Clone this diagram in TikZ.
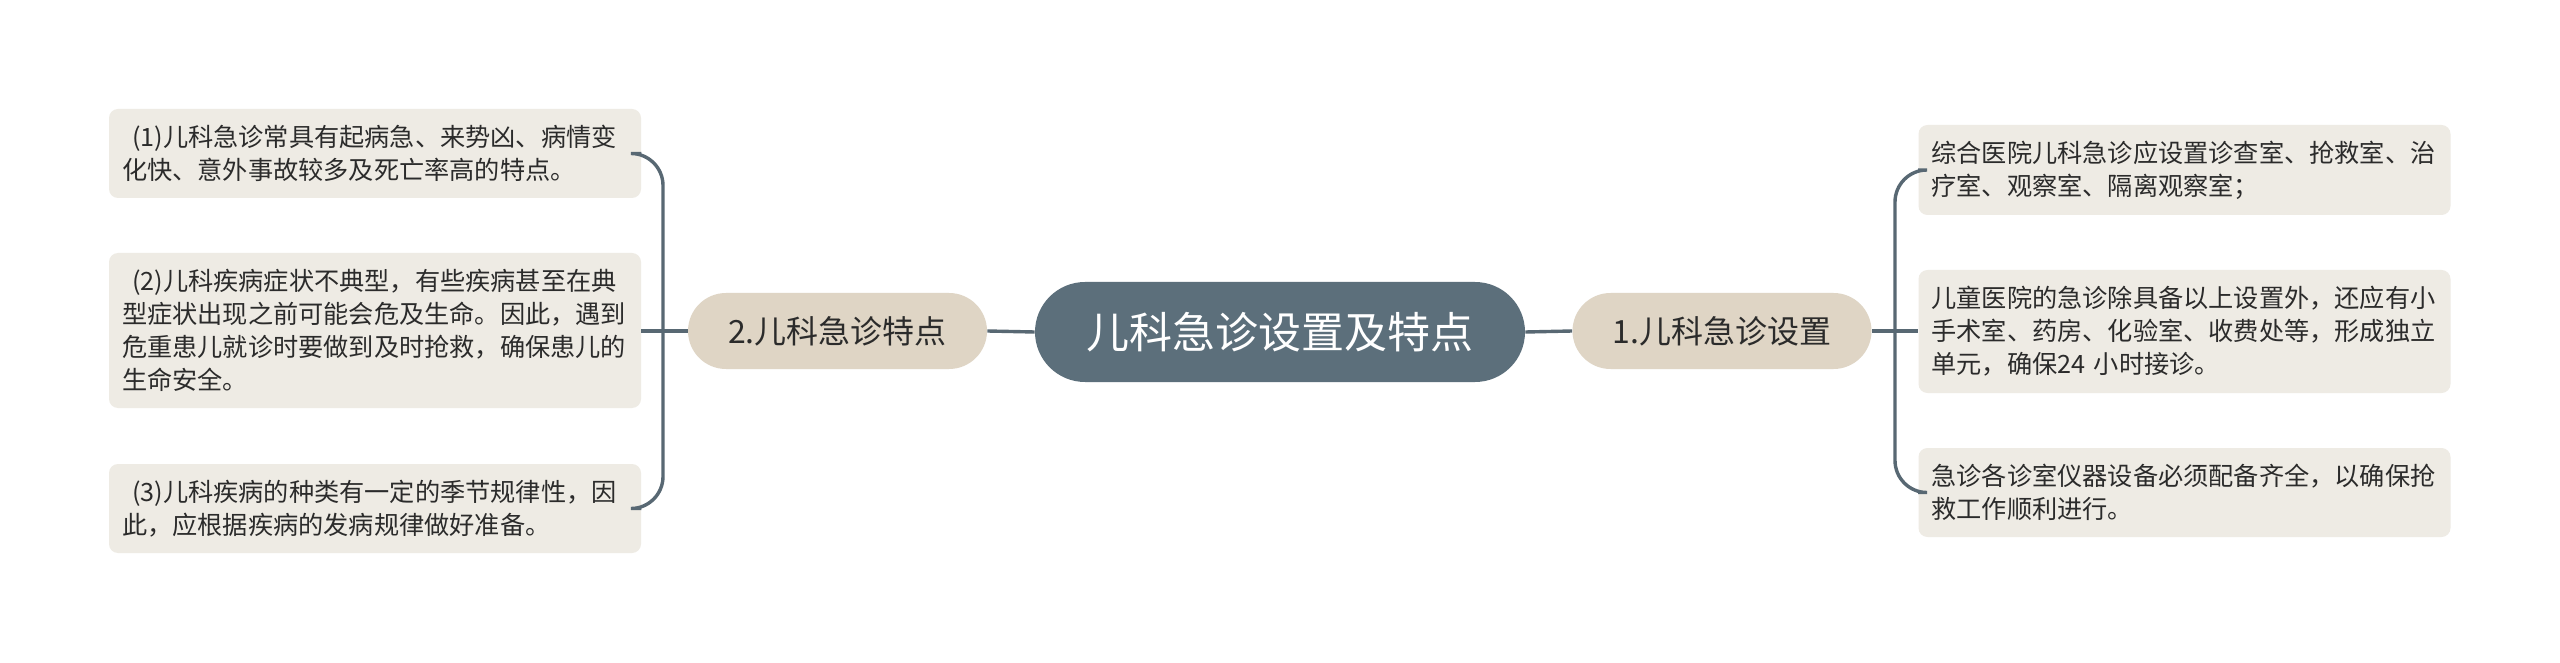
\documentclass[tikz,border=0pt]{standalone}
\usepackage{fontspec}
\setmainfont{Noto Sans CJK SC}
\definecolor{centerfill}{HTML}{5C6F7B}
\definecolor{topicfill}{HTML}{DFD5C5}
\definecolor{leaffill}{HTML}{EEEBE4}
\definecolor{linecol}{HTML}{586873}
\definecolor{textcol}{HTML}{2B2B2B}
\tikzset{
  centerbox/.style={fill=centerfill, rounded corners=25pt, minimum width=245pt, minimum height=50pt,
    inner sep=0pt, text=white, font=\fontsize{21.5pt}{26pt}\selectfont},
  topicbox/.style={fill=topicfill, rounded corners=19pt, minimum width=149.5pt, minimum height=38pt,
    inner sep=0pt, text=textcol, font=\fontsize{16pt}{20pt}\selectfont},
  leafbox/.style={fill=leaffill, rounded corners=4.5pt, text width=253pt, inner xsep=6.5pt, inner ysep=0pt,
    align=left, text=textcol, font=\fontsize{12.6pt}{16.5pt}\selectfont},
  conn/.style={draw=linecol, line width=1.7pt},
  bracket/.style={conn, rounded corners=16pt},
}
\begin{document}
\begin{tikzpicture}[x=0.5pt, y=-0.5pt]
\useasboundingbox[fill=white] (0,0) rectangle (2560,663);
\node[centerbox] (c) at (1280,332) {儿科急诊设置及特点};
\node[topicbox] (t2) at (837.5,331) {2.儿科急诊特点};
\node[topicbox] (t1) at (1722,331) {1.儿科急诊设置};

\node[leafbox, minimum height=44.5pt] (l1) at (375,153.5) {\hspace*{5pt}(1)儿科急诊常具有起病急、来势凶、病情变\\化快、意外事故较多及死亡率高的特点。};
\node[leafbox, minimum height=77.5pt] (l2) at (375,330.5) {\hspace*{5pt}(2)儿科疾病症状不典型，有些疾病甚至在典\\型症状出现之前可能会危及生命。因此，遇到\\危重患儿就诊时要做到及时抢救，确保患儿的\\生命安全。};
\node[leafbox, minimum height=44.5pt] (l3) at (375,508.5) {\hspace*{5pt}(3)儿科疾病的种类有一定的季节规律性，因\\此，应根据疾病的发病规律做好准备。};

\node[leafbox, minimum height=45pt] (r1) at (2184.5,170) {综合医院儿科急诊应设置诊查室、抢救室、治\\疗室、观察室、隔离观察室；};
\node[leafbox, minimum height=61.5pt] (r2) at (2184.5,331.5) {儿童医院的急诊除具备以上设置外，还应有小\\手术室、药房、化验室、收费处等，形成独立\\单元，确保24 小时接诊。};
\node[leafbox, minimum height=44.5pt] (r3) at (2184.5,492.5) {急诊各诊室仪器设备必须配备齐全，以确保抢\\救工作顺利进行。};

\coordinate (j2) at (663,331);
\coordinate (j1) at (1895,331);

\draw[conn] (c.west) -- (t2.east);
\draw[conn] (c.east) -- (t1.west);

\draw[conn] (t2.west) -- (l2.east |- t2.west);
\draw[bracket] (j2) |- (l1.east);
\draw[bracket] (j2) |- (l3.east);

\draw[conn] (t1.east) -- (r2.west |- t1.east);
\draw[bracket] (j1) |- (r1.west);
\draw[bracket] (j1) |- (r3.west);
\end{tikzpicture}
\end{document}
